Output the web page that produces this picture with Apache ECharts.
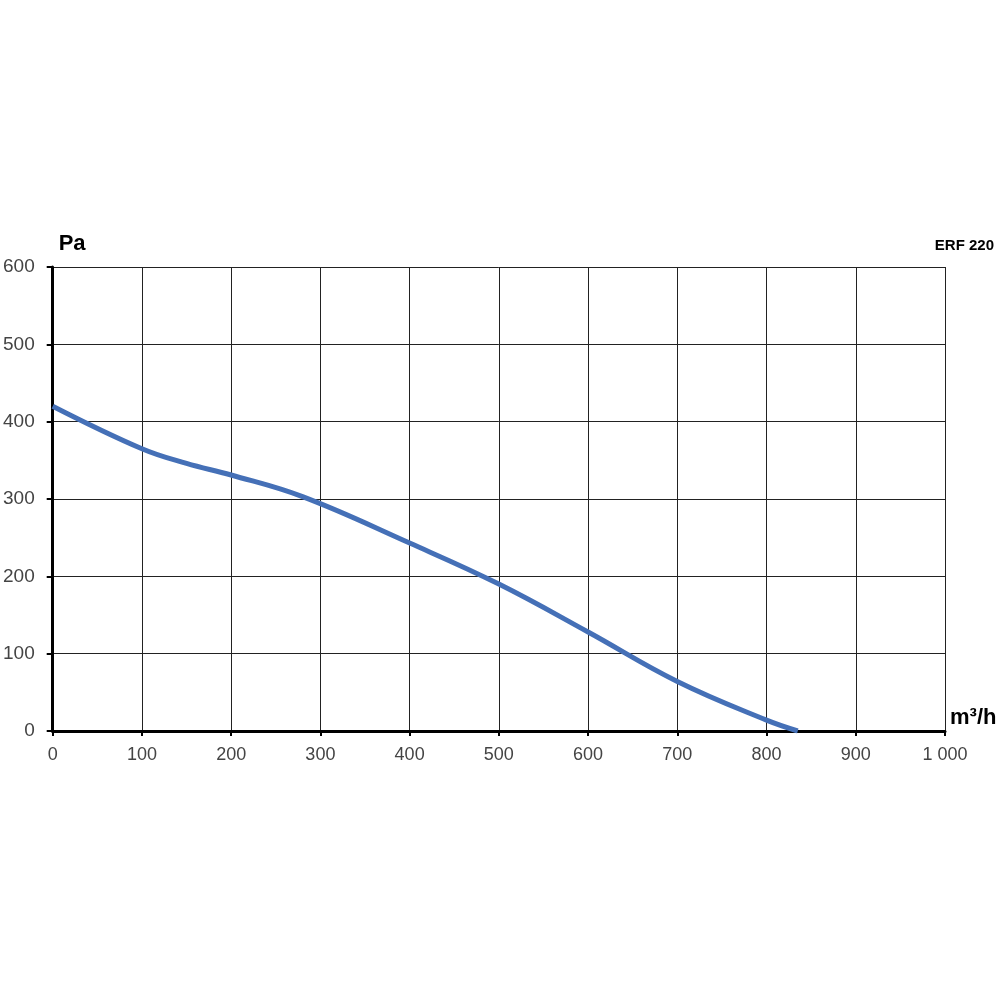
<!DOCTYPE html>
<html>
<head>
<meta charset="utf-8">
<script src="https://cdn.jsdelivr.net/npm/echarts@6/dist/echarts.min.js"></script>
<style>
	html, body {margin: 0; padding: 0; background: #fff;}
	#chart {width: 1000px; height: 1000px;}
</style>
</head>
<body>
<div id="chart"></div>
<script>
// airflow (m³/h) and static pressure (Pa)
const flow = [0, 100, 150, 200, 280, 400, 500, 600, 700, 800, 835]
const pressure = [420, 365, 346, 331, 303, 243, 190, 128, 64, 14, 0]

const model = 'ERF 220'
const xUnit = 'm³/h'
const yUnit = 'Pa'

const chart = echarts.init(document.getElementById('chart'))

const fontFamily = '"Liberation Sans", Arial, sans-serif'

chart.setOption({
	animation: false,
	backgroundColor: '#fff',
	textStyle: {fontFamily},
	grid: {
		left: 52,
		right: 55,
		top: 267,
		bottom: 269
	},
	title: {
		text: model,
		right: 1,
		top: 233,
		textStyle: {fontSize: 15, fontWeight: 'bold', color: '#000', fontFamily}
	},
	xAxis: {
		type: 'value',
		min: 0,
		max: 1000,
		interval: 100,
		name: xUnit,
		nameLocation: 'end',
		nameGap: 5,
		nameTextStyle: {fontSize: 22, fontWeight: 'bold', color: '#000', verticalAlign: 'bottom', padding: [0, 0, 2, 0]},
		axisLine: {lineStyle: {color: '#000', width: 3}},
		axisTick: {show: true, length: 5, lineStyle: {color: '#000', width: 2}},
		axisLabel: {
			fontSize: 18,
			color: '#444',
			margin: 15,
			formatter: v => String(v).replace(/\B(?=(\d{3})+(?!\d))/g, ' ')
		},
		splitLine: {lineStyle: {color: '#222', width: 1}}
	},
	yAxis: {
		type: 'value',
		min: 0,
		max: 600,
		interval: 100,
		name: yUnit,
		nameLocation: 'end',
		nameGap: 12,
		nameTextStyle: {fontSize: 22, fontWeight: 'bold', color: '#000', align: 'left', padding: [0, 0, 0, 6]},
		axisLine: {show: true, lineStyle: {color: '#000', width: 3}},
		axisTick: {show: true, length: 6, lineStyle: {color: '#000', width: 2}},
		axisLabel: {fontSize: 19, color: '#444', margin: 18},
		splitLine: {lineStyle: {color: '#222', width: 1}}
	},
	series: [{
		type: 'line',
		data: flow.map((f, i) => [f, pressure[i]]),
		smooth: 0.4,
		showSymbol: false,
		lineStyle: {color: '#4570b7', width: 5}
	}]
})
</script>
</body>
</html>
